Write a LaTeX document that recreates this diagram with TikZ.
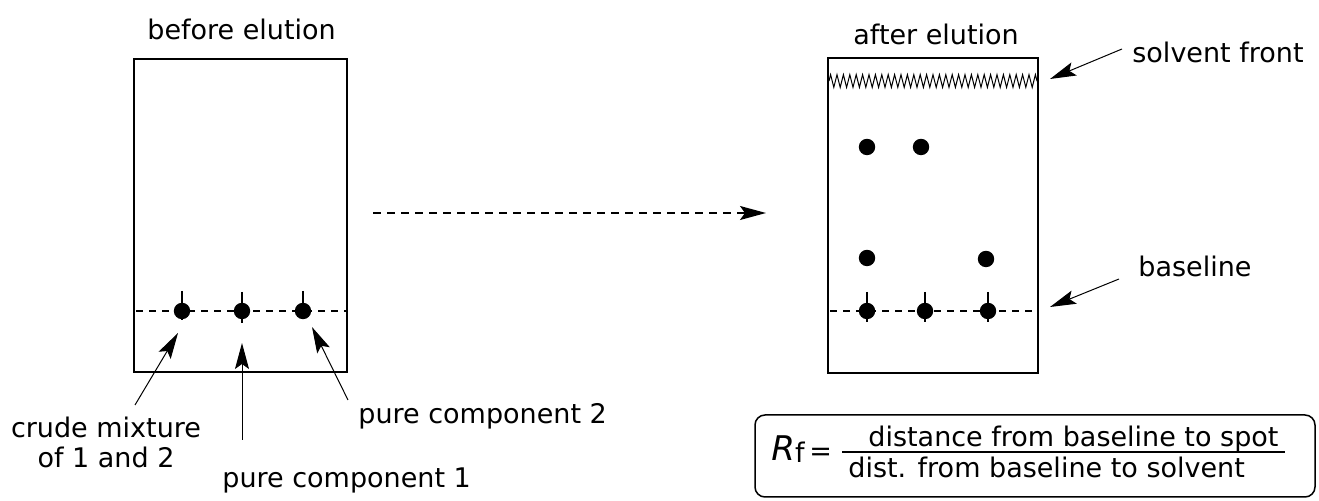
\documentclass[tikz,border=0pt]{standalone}
\usepackage{fontspec}
\setmainfont{DejaVu Sans}
\usetikzlibrary{arrows.meta,decorations.pathmorphing}
\tikzset{
	pointer/.style={-{Stealth[length=13pt,width=7pt,inset=2.5pt]}, line width=0.5pt},
	spot/.style={circle, fill=black, inner sep=0pt, minimum size=8.2pt},
	lbl/.style={inner sep=0pt, anchor=base west},
	plate/.style={line width=0.75pt},
	baseln/.style={line width=0.75pt, dash pattern=on 3.5pt off 3pt},
}

\begin{document}
\begin{tikzpicture}[x=0.5pt, y=-0.5pt, font=\fontsize{13.5}{15}\selectfont]
			\useasboundingbox (0,0) rectangle (1319,501);
			%%%%% START %%%%%
			
			% plate before elution
			\draw[plate] (134,59) rectangle (347,372);
			\draw[baseln] (136,311) -- (346,311);
			\node[spot] (b1) at (182,311) {};
			\node[spot] (b2) at (242,311) {};
			\node[spot] (b3) at (303,311) {};
			\draw[plate] (b1) ++(0,-20) -- ++(0,29);
			\draw[plate] (b2) ++(0,-19) -- ++(0,31);
			\draw[plate] (b3) ++(0,-20) -- ++(0,28);
			\node[lbl] (before) at (147,40) {before elution};
			
			% plate after elution
			\draw[plate] (828,58) rectangle (1038,373);
			\draw[decorate, decoration={zigzag, segment length=3.2pt, amplitude=3.2pt}, line width=0.5pt] (829,81) -- (1037,81);
			\draw[baseln] (830,311) -- (1037,311);
			\node[spot] (a1) at (867,147) {};
			\node[spot] (a2) at (921,147) {};
			\node[spot] (a3) at (867,258) {};
			\node[spot] (a4) at (986,259) {};
			\node[spot] (a5) at (867,311) {};
			\node[spot] (a6) at (925,311) {};
			\node[spot] (a7) at (988,311) {};
			\draw[plate] (a5) ++(0,-19) -- ++(0,30);
			\draw[plate] (a6) ++(0,-19) -- ++(0,30);
			\draw[plate] (a7) ++(0,-19) -- ++(0,30);
			\node[lbl] (after) at (853,45) {after elution};
			
			% labels
			\node[align=center, inner sep=0pt, anchor=north] (crude) at (106,417) {crude mixture\\of 1 and 2};
			\node[lbl] (pure1) at (222,488) {pure component 1};
			\node[lbl] (pure2) at (358,424) {pure component 2};
			\node[lbl] (front) at (1132,63) {solvent front};
			\node[lbl] (baselbl) at (1138,277) {baseline};
			
			% pointers
			\coordinate (crude tail) at (135,405);
			\coordinate (crude tip) at (178,333);
			\coordinate (pure1 tail) at (242,440);
			\coordinate (pure1 tip) at (242,343);
			\coordinate (pure2 tail) at (348,400);
			\coordinate (pure2 tip) at (312,327);
			\coordinate (front tail) at (1122,49);
			\coordinate (front tip) at (1050,79);
			\coordinate (base tail) at (1119,279);
			\coordinate (base tip) at (1050,307);
			\draw[pointer] (crude tail) -- (crude tip);
			\draw[pointer] (pure1 tail) -- (pure1 tip);
			\draw[pointer] (pure2 tail) -- (pure2 tip);
			\draw[pointer] (front tail) -- (front tip);
			\draw[pointer] (base tail) -- (base tip);
			
			% elution
			\coordinate (elute from) at (373,213);
			\coordinate (elute to) at (766,213);
			\draw[pointer, line width=0.7pt, dash pattern=on 4pt off 3pt] (elute from) -- (elute to);
			
			% Rf box
			\draw[line width=0.75pt, rounded corners=5pt] (755,415) rectangle (1315,497);
			\node[lbl] (rf) at (771,461) {\fontsize{17}{17}\selectfont\textit{R}\raisebox{-1pt}{\fontsize{13.5}{15}\selectfont f}};
			\node[lbl] (eq) at (809,461) {=};
			\draw[line width=0.6pt] (842,452) -- (1285,452);
			\node[lbl] (num) at (868,447) {distance from baseline to spot};
			\node[lbl] (den) at (848,478) {dist. from baseline to solvent};
			
			%%%%% END %%%%%
\end{tikzpicture}
\end{document}
